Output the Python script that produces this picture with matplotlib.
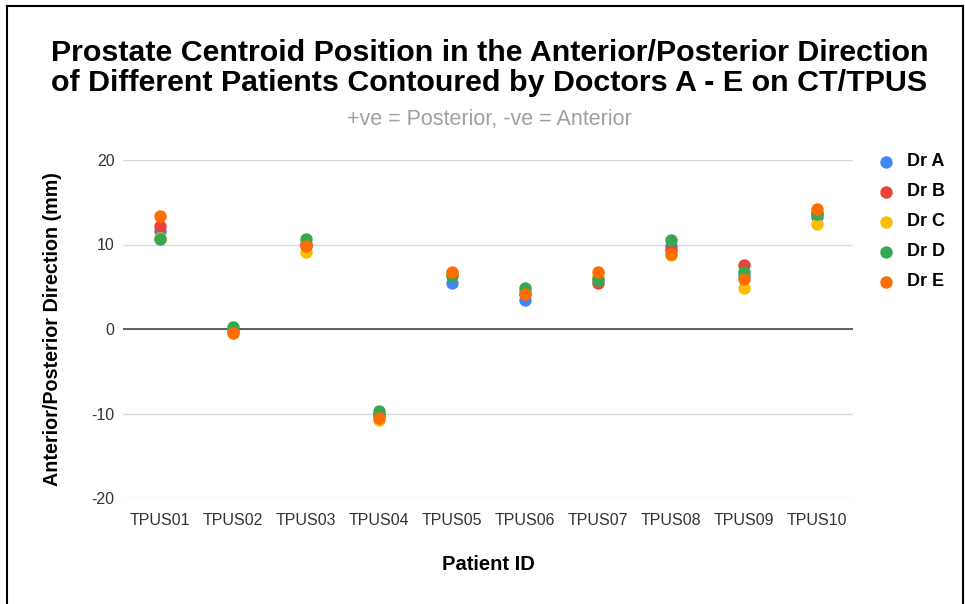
import numpy as np
import matplotlib
matplotlib.use("Agg")
from matplotlib import pyplot as plt
from matplotlib.lines import Line2D

plt.rcParams['font.family'] = ['Liberation Sans', 'DejaVu Sans']
plt.rcParams['axes.unicode_minus'] = False

patients = ['TPUS01', 'TPUS02', 'TPUS03', 'TPUS04', 'TPUS05',
            'TPUS06', 'TPUS07', 'TPUS08', 'TPUS09', 'TPUS10']
doctors = ['Dr A', 'Dr B', 'Dr C', 'Dr D', 'Dr E']

# centroid position (mm)
dr_a = [11.6, -0.2, 10.0, -10.2, 5.5, 3.4, 6.0, 9.8, 6.3, 13.3]
dr_b = [12.2, -0.1, 10.1, -10.1, 6.5, 4.2, 5.4, 9.4, 7.6, 13.7]
dr_c = [10.8, -0.3, 9.1, -10.8, 6.4, 4.5, 6.2, 8.7, 4.9, 12.4]
dr_d = [10.6, 0.2, 10.6, -9.7, 6.3, 4.9, 5.8, 10.5, 6.8, 13.6]
dr_e = [13.4, -0.5, 9.8, -10.5, 6.8, 4.1, 6.8, 8.9, 5.9, 14.2]
values = [dr_a, dr_b, dr_c, dr_d, dr_e]

colors = ['#4285F4', '#EA4335', '#FBBC04', '#34A853', '#FF6D01']

fig = plt.figure(figsize=(9.65, 6.04), dpi=100)
ax = fig.add_axes([123 / 965, 1 - 498 / 604, 730 / 965, 338 / 604])

x = np.arange(len(patients))
for name, vals, c in zip(doctors, values, colors):
    ax.scatter(x, vals, s=80, color=c, label=name, zorder=3, linewidths=0)

ax.set_xlim(-0.5, len(patients) - 0.5)
ax.set_ylim(-20, 20)
ax.set_yticks([-20, -10, 0, 10, 20])
ax.set_xticks(x)
ax.set_xticklabels(patients)
ax.tick_params(length=0, labelsize=11.5, colors='#333333')
ax.tick_params(axis='x', pad=11)
ax.tick_params(axis='y', pad=6)
ax.grid(axis='y', color='#d9d9d9', linewidth=1)
ax.axhline(0, color='#555555', linewidth=1.3, zorder=2)
for s in ax.spines.values():
    s.set_visible(False)

ax.set_xlabel('Patient ID', fontsize=14.5, fontweight='bold', labelpad=19)
ax.set_ylabel('Anterior/Posterior Direction (mm)', fontsize=14.2,
              fontweight='bold', labelpad=21)

fig.text(0.507, 1 - 68 / 604,
         'Prostate Centroid Position in the Anterior/Posterior Direction\n'
         'of Different Patients Contoured by Doctors A - E on CT/TPUS',
         ha='center', va='center', fontsize=21.9, fontweight='bold',
         linespacing=1.12)
fig.text(0.507, 1 - 120 / 604, '+ve = Posterior, -ve = Anterior',
         ha='center', va='center', fontsize=15.5, color='#a0a0a0')

leg = fig.legend(loc='upper left', bbox_to_anchor=(852 / 965, 1 - 137 / 604),
                 frameon=False, handletextpad=0.15, labelspacing=0.72,
                 prop={'weight': 'bold', 'size': 13}, markerscale=1.0)

# black frame around the picture (top, left, right)
fig.add_artist(Line2D([7 / 965, 7 / 965], [0, 1 - 6 / 604], color='black', lw=1.5,
                      transform=fig.transFigure))
fig.add_artist(Line2D([7 / 965, 963 / 965], [1 - 6 / 604, 1 - 6 / 604], color='black',
                      lw=1.5, transform=fig.transFigure))
fig.add_artist(Line2D([963 / 965, 963 / 965], [0, 1 - 6 / 604], color='black', lw=1.5,
                      transform=fig.transFigure))

fig.savefig('out.png', dpi=100)
